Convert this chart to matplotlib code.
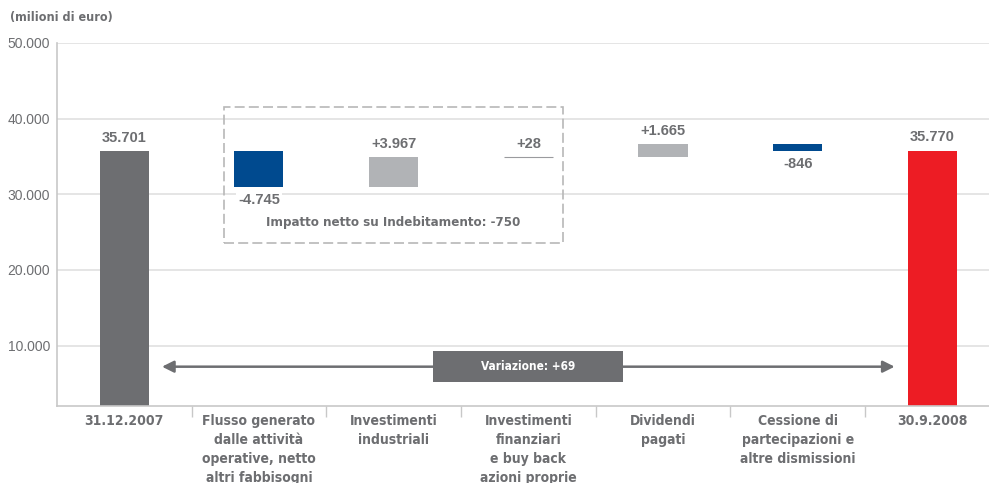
import matplotlib
matplotlib.use('Agg')
import matplotlib.pyplot as plt
import matplotlib.patches as mpatches
import numpy as np

# dati (milioni di euro)
categorie = ['31.12.2007',
             'Flusso generato\ndalle attività\noperative, netto\naltri fabbisogni',
             'Investimenti\nindustriali',
             'Investimenti\nfinanziari\ne buy back\nazioni proprie',
             'Dividendi\npagati',
             'Cessione di\npartecipazioni e\naltre dismissioni',
             '30.9.2008']
valori = [35701, -4745, 3967, 28, 1665, -846, 35770]
etichette = ['35.701', '-4.745', '+3.967', '+28', '+1.665', '-846', '35.770']
yticks = [10000, 20000, 30000, 40000, 50000]
ytick_lab = ['10.000', '20.000', '30.000', '40.000', '50.000']
impatto = 'Impatto netto su Indebitamento: -750'
variazione = 'Variazione: +69'

GRIGIO = '#6d6e71'
BLU = '#004a8f'
GRIGIO_CH = '#b1b3b6'
ROSSO = '#ed1c24'
COND = dict(family='DejaVu Sans', stretch='condensed', weight='bold')
SANS = ['Liberation Sans', 'DejaVu Sans']

# basi del waterfall
n = len(valori)
basi = [0] * n
altezze = [0] * n
colori = [GRIGIO_CH] * n
livello = valori[0]
altezze[0] = valori[0]
colori[0] = GRIGIO
for i in range(1, n - 1):
    v = valori[i]
    if v < 0:
        basi[i] = livello + v
        altezze[i] = -v
        colori[i] = BLU
    else:
        basi[i] = livello
        altezze[i] = v
    livello += v
altezze[-1] = valori[-1]
colori[-1] = ROSSO

fig = plt.figure(figsize=(9.89, 4.83), dpi=100)
ax = fig.add_axes([0.0576, 0.1594, 0.9532, 0.7516])
x = np.arange(n)

ax.set_axisbelow(True)
ax.yaxis.grid(True, color='#e3e3e3', lw=1.3)
barre = ax.bar(x, altezze, bottom=basi, width=0.364, color=colori)
barre[3].set_edgecolor('#9a9b9e')
barre[3].set_linewidth(0.8)

for i in range(n):
    if valori[i] < 0 and 0 < i < n - 1:
        y = basi[i]
        off = -9.5
    else:
        y = basi[i] + altezze[i]
        off = 9.5
    ax.annotate(etichette[i], (x[i], y), xytext=(0, off), textcoords='offset points',
                ha='center', va='center', fontsize=10.5, fontweight='bold',
                color=GRIGIO, family=SANS,
                bbox=dict(boxstyle='square,pad=0.15', fc='white', ec='none'))

# riquadro tratteggiato
box = mpatches.Rectangle((0.74, 23560), 2.52, 18020, fill=False, ec='#b8b8b8',
                         lw=1.2, ls=(0, (6, 2.5)), zorder=1)
ax.add_patch(box)
ax.text(2, 26200, impatto, ha='center', va='center', fontsize=9.5,
        color=GRIGIO, **COND)

# freccia variazione
ax.annotate('', xy=(0.28, 7200), xytext=(5.72, 7200),
            arrowprops=dict(arrowstyle='<|-|>,head_length=0.7,head_width=0.35',
                            color=GRIGIO, lw=1.8, shrinkA=0, shrinkB=0))
ax.add_patch(mpatches.Rectangle((3 - 0.705, 7200 - 2050), 1.41, 4100,
                                fc=GRIGIO, ec='none', zorder=3))
ax.text(3, 7200, variazione, ha='center', va='center', fontsize=8.5,
        color='white', zorder=4, **COND)

ax.set_xlim(-0.5, n - 0.5)
ax.set_ylim(2000, 50000)
ax.set_yticks(yticks)
ax.set_yticklabels(ytick_lab, fontsize=10, color=GRIGIO, family=SANS)
ax.tick_params(axis='y', length=0, pad=5)
ax.set_xticks(x)
ax.set_xticklabels(categorie, fontsize=10, color=GRIGIO,
                   linespacing=1.45, va='top', **COND)
ax.tick_params(axis='x', which='major', length=0, pad=6)
ax.set_xticks(np.arange(0.5, n - 1, 1), minor=True)
ax.tick_params(axis='x', which='minor', length=8, color='#c8c8c8', width=1)

for s in ['top', 'right']:
    ax.spines[s].set_visible(False)
ax.spines['left'].set_color('#c8c8c8')
ax.spines['bottom'].set_color('#c8c8c8')
ax.spines['left'].set_linewidth(1.2)
ax.spines['bottom'].set_linewidth(1.2)

fig.text(10 / 989, 1 - 18 / 483, '(milioni di euro)', ha='left', va='center',
         fontsize=9, color=GRIGIO, **COND)

plt.savefig('out.png', dpi=100)
